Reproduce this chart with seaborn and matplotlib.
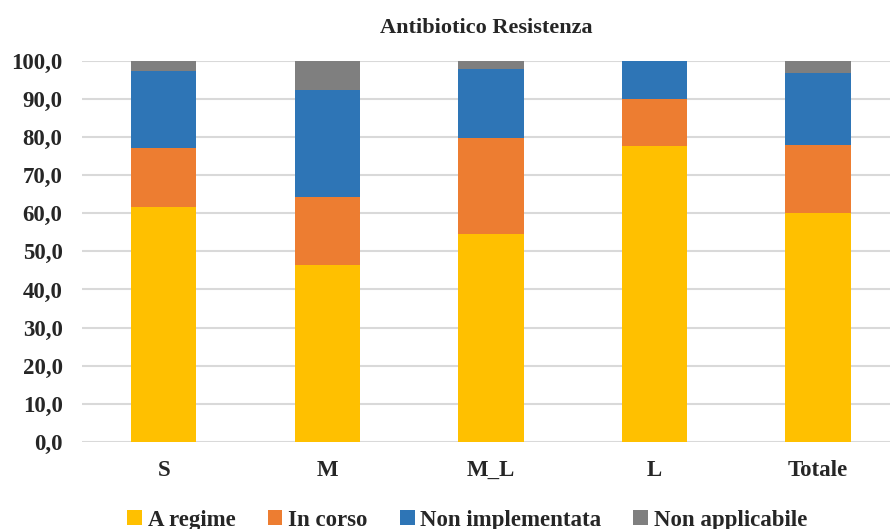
import numpy as np
import pandas as pd
import matplotlib
matplotlib.use("Agg")
import matplotlib.pyplot as plt
import seaborn as sns
from matplotlib.patches import Patch

## Data ##
categories = ["S", "M", "M_L", "L", "Totale"]
a_regime = [61.6, 46.4, 54.6, 77.5, 60.1]
in_corso = [15.4, 17.8, 25.0, 12.5, 17.8]
non_implementata = [20.3, 28.1, 18.1, 10.0, 19.0]
non_applicabile = [2.7, 7.7, 2.3, 0.0, 3.1]

series_names = ["A regime", "In corso", "Non implementata", "Non applicabile"]
colors = ["#ffc000", "#ed7d31", "#2e75b6", "#7f7f7f"]

df = pd.DataFrame({
    "cat": categories,
    "A regime": a_regime,
    "In corso": in_corso,
    "Non implementata": non_implementata,
    "Non applicabile": non_applicabile,
})
cum = df[series_names].cumsum(axis=1)

## Plot ##
sns.set_style("white")
plt.rcParams["font.family"] = ["Liberation Serif", "DejaVu Serif"]
plt.rcParams["font.weight"] = "bold"

fig = plt.figure(figsize=(8.9, 5.29), dpi=100)
ax = fig.add_axes([82 / 890, (529 - 442) / 529, 808 / 890, (442 - 60.7) / 529])

# draw from the top of the stack down so lower segments cover upper ones
for name, col in reversed(list(zip(series_names, colors))):
    sns.barplot(x=df["cat"], y=cum[name], color=col, width=0.4, ax=ax,
                saturation=1, linewidth=0, edgecolor="none", zorder=2)

ax.set_xlim(-0.5, 4.44)
ax.set_ylim(0, 100)
ax.set_yticks(np.arange(0, 101, 10))
ax.set_yticklabels([f"{v:.1f}".replace(".", ",") for v in np.arange(0, 101, 10)])
ax.yaxis.grid(True, color="#d9d9d9", linewidth=1.5, zorder=0)
ax.set_axisbelow(True)
for s in ax.spines.values():
    s.set_visible(False)
ax.tick_params(axis="both", length=0, labelsize=16.5)
ax.tick_params(axis="y", pad=14)
ax.tick_params(axis="x", pad=13)
for lbl in ax.get_xticklabels() + ax.get_yticklabels():
    lbl.set_fontweight("bold")
ax.set_xlabel("")
ax.set_ylabel("")
ax.set_title("Antibiotico Resistenza", fontsize=16, fontweight="bold", pad=20)

handles = [Patch(facecolor=c, edgecolor="none") for c in colors]
fig.legend(handles, series_names, loc="center", bbox_to_anchor=(0.525, 0.017),
           ncol=4, frameon=False, handlelength=0.65, handleheight=0.65,
           handletextpad=0.25, columnspacing=1.4,
           prop={"weight": "bold", "size": 16.5})

fig.savefig("out.png", dpi=100)
